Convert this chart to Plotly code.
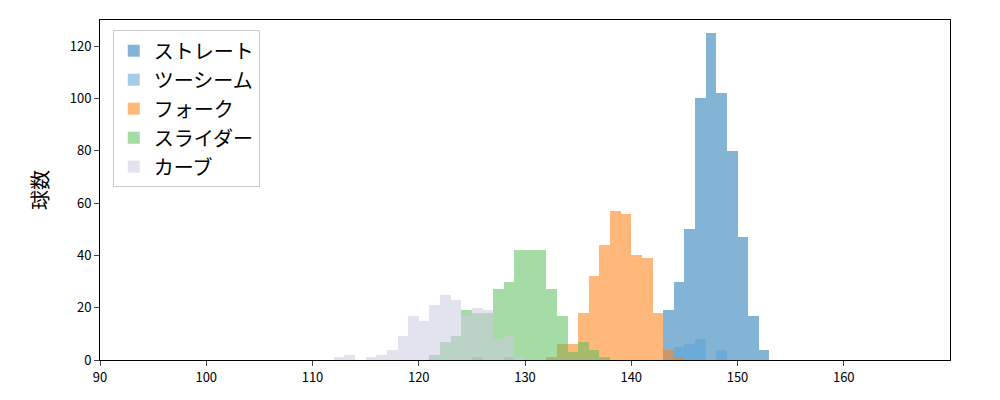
import plotly.graph_objects as go

names = ['ストレート', 'ツーシーム', 'フォーク', 'スライダー', 'カーブ']
colors = ['#1f77b4', '#5aa5d8', '#ff7f0e', '#5cbf5c', '#cdcde3']

straight_x = list(range(143, 153))
straight_y = [19, 30, 50, 100, 125, 102, 80, 47, 17, 4]

twoseam_x = [125, 128, 144, 145, 146, 148]
twoseam_y = [1, 1, 5, 6, 8, 4]

fork_x = list(range(132, 145))
fork_y = [1, 6, 6, 18, 32, 44, 57, 56, 40, 39, 18, 4, 1]

slider_x = list(range(121, 138))
slider_y = [2, 7, 9, 19, 18, 18, 27, 30, 42, 42, 42, 27, 17, 3, 7, 4, 1]

curve_x = [112, 113, 115, 116, 117, 118, 119, 120, 121, 122, 123, 124, 125, 126, 127, 128, 129]
curve_y = [1, 2, 1, 2, 4, 9, 17, 15, 21, 25, 23, 17, 20, 19, 8, 9, 1]

series = [(straight_x, straight_y), (twoseam_x, twoseam_y), (fork_x, fork_y),
          (slider_x, slider_y), (curve_x, curve_y)]

fig = go.Figure()
for (xs, ys), name, color in zip(series, names, colors):
    fig.add_trace(go.Bar(x=[v + 0.5 for v in xs], y=ys, width=1, name=name,
                         marker=dict(color=color, line_width=0), opacity=0.55))

fig.update_layout(
    barmode='overlay',
    bargap=0,
    width=1000, height=400,
    margin=dict(l=92, r=58, t=12, b=48),
    plot_bgcolor='white', paper_bgcolor='white',
    font=dict(family='Noto Sans CJK JP', size=13, color='black'),
    xaxis=dict(range=[90, 170], tickvals=[90, 100, 110, 120, 130, 140, 150, 160],
               showline=True, linecolor='black', mirror=True, ticks='outside',
               showgrid=False, zeroline=False),
    yaxis=dict(range=[0, 130], tickvals=[0, 20, 40, 60, 80, 100, 120],
               showline=True, linecolor='black', mirror=True, ticks='outside',
               showgrid=False, zeroline=False,
               title=dict(text='球数', font=dict(size=20))),
    legend=dict(x=0.015, y=0.97, xanchor='left', yanchor='top',
                bordercolor='#cccccc', borderwidth=1, font=dict(size=20),
                traceorder='normal'),
)

fig.write_html("out.html")
